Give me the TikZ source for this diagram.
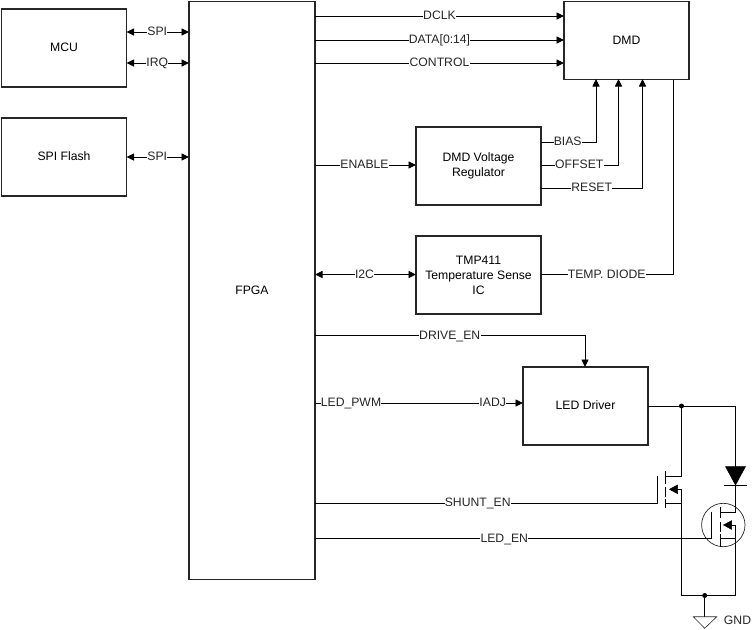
\documentclass[tikz,border=0pt]{standalone}
\usepackage{fontspec}
\setmainfont{Liberation Sans}
\usetikzlibrary{arrows.meta,calc}
\tikzset{
  block/.style={draw=black!85,line width=1.4pt,anchor=north west,align=center,inner sep=0pt,outer sep=0pt},
  wire/.style={draw=black,line width=0.9pt},
  toarrow/.style={wire,-{Triangle[length=7.5pt,width=7pt]}},
  botharrow/.style={wire,{Triangle[length=7.5pt,width=7pt]}-{Triangle[length=7.5pt,width=7pt]}},
  sig/.style={fill=white,inner sep=0.3pt,text=black!85,text height=9pt,text depth=2pt},
  joint/.style={circle,fill=black,inner sep=0pt,minimum size=5pt},
  solidhead/.style={fill=black,draw=black,line width=0.5pt,line join=miter}
}
\newcommand{\blocktext}[1]{\raisebox{1pt}{#1}}
\begin{document}
\begin{tikzpicture}[x=1pt,y=-1pt,font=\fontsize{12.2}{15}\selectfont]
\useasboundingbox (0,0) rectangle (752,629);

% Blocks
\node[block,minimum width=125pt,minimum height=78pt] (mcu) at (1.5,9) {\blocktext{MCU}};
\node[block,minimum width=125pt,minimum height=78pt] (flash) at (1.5,118) {\blocktext{SPI Flash}};
\node[block,minimum width=126pt,minimum height=578pt] (fpga) at (189,1.5) {\blocktext{FPGA}};
\node[block,minimum width=125pt,minimum height=78pt] (dmd) at (564,1.5) {\blocktext{DMD}};
\node[block,minimum width=125pt,minimum height=78pt] (reg) at (416,127) {DMD Voltage\\Regulator};
\node[block,minimum width=125pt,minimum height=78pt] (tmp) at (416,236) {TMP411\\Temperature Sense\\IC};
\node[block,minimum width=125pt,minimum height=78pt] (drv) at (523,367) {\blocktext{LED Driver}};

% Host and flash links
\draw[botharrow] (mcu.east |- 0,32) -- node[sig,xshift=-0.5pt] (lspi) {SPI} (fpga.west |- 0,32);
\draw[botharrow] (mcu.east |- 0,63) -- node[sig,xshift=-0.5pt] (lirq) {IRQ} (fpga.west |- 0,63);
\draw[botharrow] (flash.east |- 0,157) -- node[sig,xshift=-0.5pt] (lfspi) {SPI} (fpga.west |- 0,157);

% FPGA to DMD
\draw[toarrow] (fpga.east |- 0,16) -- node[sig] (ldclk) {DCLK} (dmd.west |- 0,16);
\draw[toarrow] (fpga.east |- 0,40) -- node[sig] (ldata) {DATA[0:14]} (dmd.west |- 0,40);
\draw[toarrow] (fpga.east |- 0,63) -- node[sig] (lctl) {CONTROL} (dmd.west |- 0,63);

% Regulator and temperature sensor
\draw[toarrow] (fpga.east |- 0,165) -- node[sig,xshift=-1pt] (lena) {ENABLE} (reg.west |- 0,165);
\draw[botharrow] (fpga.east |- 0,274.5) -- node[sig,xshift=-1pt] (li2c) {I2C} (tmp.west |- 0,274.5);

\draw[toarrow] (reg.east |- 0,142) -- (596,142) -- (596,79);
\node[sig] (lbias) at (567.7,141.5) {BIAS};
\draw[toarrow] (reg.east |- 0,165) -- (618.5,165) -- (618.5,79);
\node[sig] (loff) at (579.3,165) {OFFSET};
\draw[toarrow] (reg.east |- 0,188) -- (642.5,188) -- (642.5,79);
\node[sig] (lrst) at (591.7,188) {RESET};
\draw[wire] (tmp.east |- 0,274.5) -- (673.5,274.5) -- (673.5,79.5);
\node[sig] (ltemp) at (606.7,274.5) {TEMP. DIODE};

% LED driver inputs
\draw[toarrow] (fpga.east |- 0,335.5) -- (585,335.5) -- (585,367);
\node[sig] (ldrv) at (449.7,335.5) {DRIVE\_EN};
\draw[toarrow] (fpga.east |- 0,403) -- (drv.west |- 0,403);
\node[sig] (lpwm) at (351,403) {LED\_PWM};
\node[sig] (liadj) at (492.7,403) {IADJ};

% LED power path
\coordinate (top) at (681.5,406);
\coordinate (gndj) at (704.7,595.5);
\coordinate (ledx) at (735.5,406);
\draw[wire] (drv.east |- top) -- (ledx) -- (735.5,512.7) -- (720,512.7);
\node[joint] (topdot) at (top) {};

% Diode
\draw[solidhead] (725.5,466.5) -- (745.5,466.5) -- (735.5,485) -- cycle;
\draw[wire] (723.5,485.2) -- (747,485.2);

% Shunt transistor
\draw[wire] (top) -- (681.5,476) -- (665,476);
\draw[wire] (665,503.3) -- (681.5,503.3);
\draw[wire] (681.5,489.3) -- (677,489.3);
\draw[wire] (681.5,489.3) -- (681.5,595.5) -- (735.5,595.5) -- (735.5,525) -- (731,525);
\draw[solidhead] (669.5,489.3) -- (677.5,485) -- (677.5,493.6) -- cycle;
\draw[wire] (665,471) -- (665,484.3) (665,486.7) -- (665,496.7) (665,499.3) -- (665,508.3);
\draw[wire] (657.7,476) -- (657.7,503.3);
\draw[wire] (fpga.east |- 0,503.3) -- (657.7,503.3);
\node[sig] (lshunt) at (477.7,503.3) {SHUNT\_EN};

% Load transistor
\draw[black!85,line width=0.7pt] (723.3,525) circle[radius=21.7];
\draw[wire] (720,538.3) -- (735.5,538.3);
\draw[solidhead] (723.5,525) -- (731.5,520.7) -- (731.5,529.3) -- cycle;
\draw[wire] (720,506.7) -- (720,518) (720,521.7) -- (720,531.7) (720,534) -- (720,546.7);
\draw[wire] (711.7,511.7) -- (711.7,538.3);
\draw[wire] (fpga.east |- 0,538.5) -- (711.7,538.5);
\node[sig] (lled) at (504.3,538.5) {LED\_EN};

% Ground
\node[joint] (gnddot) at (gndj) {};
\draw[wire] (gndj) -- (704.7,616.7);
\draw[line width=0.6pt,black!85] (693.3,616.7) -- (716.7,616.7) -- (704.7,628.3) -- cycle;
\node[text=black!85,inner sep=0pt] (lgnd) at (737.5,620) {GND};
\end{tikzpicture}
\end{document}
